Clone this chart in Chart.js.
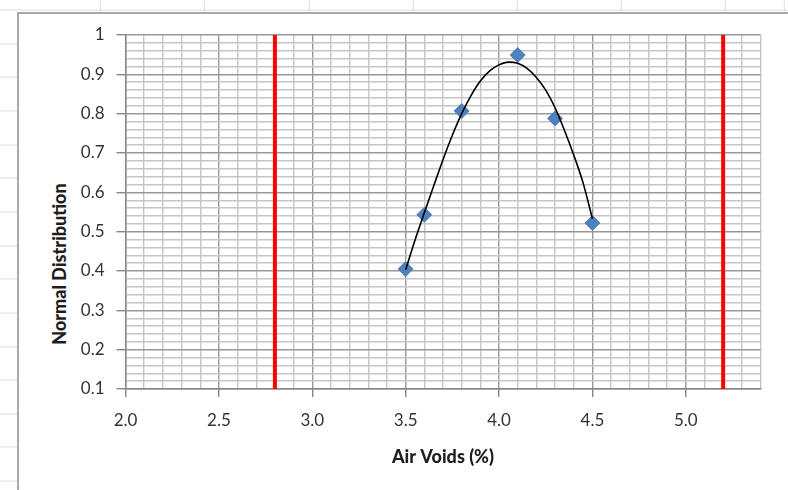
<!DOCTYPE html>
<html>
<head>
<meta charset="utf-8">
<script src="https://cdn.jsdelivr.net/npm/chart.js@4.4.0/dist/chart.umd.min.js"></script>
<style>
html, body { margin: 0; padding: 0; }
body {
	width: 788px; height: 490px; overflow: hidden; position: relative;
	background-color: #fff;
	background-image:
		repeating-linear-gradient(180deg, #dcdcdc 0 1px, transparent 1px 33.65px),
		repeating-linear-gradient(90deg, #dcdcdc 0 1px, transparent 1px 104.2px);
	background-position: 0 9.5px, -4.2px 0;
}
#frame {
	position: absolute; left: 17px; top: 12px; width: 800px; height: 500px;
	background: #fff;
	border-left: 2px solid #a8a8a8;
	border-top: 2px solid #a8a8a8;
}
#wrap { position: absolute; left: 0; top: 0; width: 788px; height: 490px; }
#ytitle {
	position: absolute; left: 58.5px; top: 264px;
	transform: translate(-50%, -50%) rotate(-90deg);
	font: 900 18px Lato, sans-serif; color: #1e1e1e; white-space: nowrap;
}
</style>
</head>
<body>
<div id="frame"></div>
<div id="ytitle">Normal Distribution</div>
<div id="wrap"><canvas id="chart"></canvas></div>
<script>
// measured points (diamonds)
const airVoids = [3.5, 3.6, 3.8, 4.1, 4.3, 4.5];
const normalDist = [0.405, 0.543, 0.807, 0.949, 0.788, 0.522];

// black curve
const curveX = [3.5, 3.55, 3.6, 3.65, 3.7, 3.75, 3.8, 3.85, 3.9, 3.95, 4.0, 4.05, 4.1, 4.15, 4.2, 4.25, 4.3, 4.35, 4.4, 4.45, 4.5];
const curveY = [0.403, 0.478, 0.548, 0.616, 0.683, 0.745, 0.8, 0.846, 0.883, 0.909, 0.924, 0.931, 0.928, 0.915, 0.892, 0.86, 0.815, 0.758, 0.695, 0.624, 0.533];

// spec limits (red lines)
const limits = [2.8, 5.2];

const xTickLabels = ['2.0', '2.5', '3.0', '3.5', '4.0', '4.5', '5.0'];
const yTickLabels = ['0.1', '0.2', '0.3', '0.4', '0.5', '0.6', '0.7', '0.8', '0.9', '1'];

const MAJOR = '#989898';
const MINOR = '#c6c6c6';
const TICK = '#868686';

const xLabel = v => xTickLabels.includes(v.toFixed(1)) ? v.toFixed(1) : '';
const yLabel = v => {
	let s = String(+v.toFixed(2));
	return yTickLabels.includes(s) ? s : '';
};

let datasets = [
	{
		label: 'curve',
		data: curveX.map((x, i) => ({x: x, y: curveY[i]})),
		showLine: true,
		borderColor: '#000000',
		borderWidth: 1.6,
		pointRadius: 0,
		cubicInterpolationMode: 'monotone',
		order: 0,
	},
	{
		label: 'Normal Distribution',
		data: airVoids.map((x, i) => ({x: x, y: normalDist[i]})),
		pointStyle: 'rectRot',
		pointRadius: 7.5,
		borderWidth: 1,
		backgroundColor: '#4f81bd',
		borderColor: '#4f81bd',
		order: 1,
	},
];
for (const lim of limits) {
	datasets.push({
		label: 'limit ' + lim,
		data: [{x: lim, y: 0.1}, {x: lim, y: 1}],
		showLine: true,
		borderColor: '#ff0000',
		borderWidth: 4,
		pointRadius: 0,
		order: 2,
	});
}

const tickFont = {family: 'Lato', size: 17};

new Chart(document.getElementById('chart'), {
	type: 'scatter',
	data: { datasets: datasets },
	options: {
		responsive: true,
		maintainAspectRatio: false,
		animation: false,
		layout: { padding: { left: 0, right: 27.5, top: 35, bottom: 0 } },
		plugins: {
			legend: { display: false },
			tooltip: { enabled: false },
		},
		scales: {
			x: {
				type: 'linear',
				min: 2,
				max: 5.4,
				ticks: {
					stepSize: 0.1,
					autoSkip: false,
					maxRotation: 0,
					padding: 13,
					color: '#333333',
					font: tickFont,
					callback: (value) => xLabel(value),
				},
				grid: {
					color: (ctx) => xLabel(ctx.tick.value) ? MAJOR : MINOR,
					lineWidth: 1.4,
					tickLength: 8,
					tickColor: (ctx) => xLabel(ctx.tick.value) ? TICK : 'rgba(0,0,0,0)',
				},
				border: { color: TICK, width: 1.4 },
				title: {
					display: true,
					text: 'Air Voids (%)',
					color: '#1e1e1e',
					font: {family: 'Lato', size: 18, weight: '900'},
					padding: {top: 0, bottom: 22},
				},
				afterFit: (scale) => { scale.height = 101; },
			},
			y: {
				type: 'linear',
				min: 0.1,
				max: 1,
				ticks: {
					stepSize: 0.02,
					autoSkip: false,
					padding: 12,
					color: '#333333',
					font: tickFont,
					callback: (value) => yLabel(value),
				},
				grid: {
					color: (ctx) => yLabel(ctx.tick.value) ? MAJOR : MINOR,
					lineWidth: 1.4,
					tickLength: 9,
					tickColor: (ctx) => yLabel(ctx.tick.value) ? TICK : 'rgba(0,0,0,0)',
				},
				border: { color: TICK, width: 1.4 },
				afterFit: (scale) => { scale.width = 125.5; },
			},
		},
	},
});
</script>
</body>
</html>
